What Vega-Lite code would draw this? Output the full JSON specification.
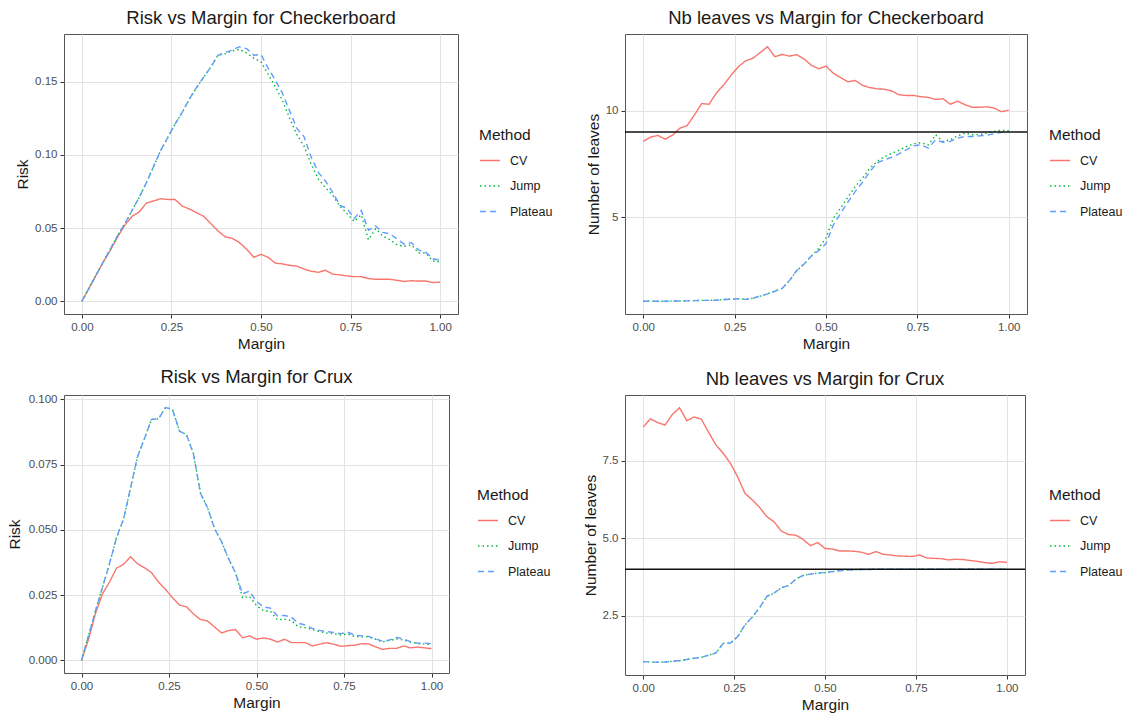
{
"$schema": "https://vega.github.io/schema/vega-lite/v6.json",
"background": "white",
"padding": {"left": 6, "top": 8, "right": 0, "bottom": 0},
"config": {
  "font": "Liberation Sans",
  "view": {"stroke": "#555555", "strokeWidth": 1},
  "axis": {"grid": true, "gridColor": "#e2e2e2", "gridWidth": 1, "domain": false, "tickColor": "#333333", "tickSize": 4, "labelColor": "#4d4d4d", "labelFontSize": 11.5, "labelPadding": 3, "titleFontSize": 15.5, "titleFontWeight": "normal", "titleColor": "#1a1a1a", "titlePadding": 4, "labelOverlap": false, "labelFlush": false},
  "title": {"fontSize": 18.5, "fontWeight": "normal", "color": "#1a1a1a", "offset": 7, "anchor": "middle"},
  "legend": {"titleFontSize": 15.5, "titleFontWeight": "normal", "titleColor": "#1a1a1a", "labelFontSize": 12.5, "labelColor": "#1a1a1a", "symbolStrokeWidth": 1.4, "symbolSize": 400, "symbolType": "stroke", "labelOffset": 9, "titlePadding": 6, "rowPadding": 7.5}
},
"datasets": {
"ckRisk": [
{"margin":0,"method":"CV","value":0},{"margin":0.02,"method":"CV","value":0.009},{"margin":0.04,"method":"CV","value":0.018},{"margin":0.06,"method":"CV","value":0.027},{"margin":0.08,"method":"CV","value":0.035},{"margin":0.1,"method":"CV","value":0.044},{"margin":0.12,"method":"CV","value":0.052},{"margin":0.14,"method":"CV","value":0.058},{"margin":0.16,"method":"CV","value":0.061},{"margin":0.18,"method":"CV","value":0.067},{"margin":0.2,"method":"CV","value":0.0685},{"margin":0.22,"method":"CV","value":0.07},{"margin":0.24,"method":"CV","value":0.0695},{"margin":0.26,"method":"CV","value":0.0695},{"margin":0.28,"method":"CV","value":0.065},{"margin":0.3,"method":"CV","value":0.063},{"margin":0.32,"method":"CV","value":0.0605},{"margin":0.34,"method":"CV","value":0.058},{"margin":0.36,"method":"CV","value":0.053},{"margin":0.38,"method":"CV","value":0.048},{"margin":0.4,"method":"CV","value":0.044},{"margin":0.42,"method":"CV","value":0.043},{"margin":0.44,"method":"CV","value":0.04},{"margin":0.46,"method":"CV","value":0.0355},{"margin":0.48,"method":"CV","value":0.03},{"margin":0.5,"method":"CV","value":0.032},{"margin":0.52,"method":"CV","value":0.03},{"margin":0.54,"method":"CV","value":0.026},{"margin":0.56,"method":"CV","value":0.0255},{"margin":0.58,"method":"CV","value":0.0245},{"margin":0.6,"method":"CV","value":0.024},{"margin":0.62,"method":"CV","value":0.022},{"margin":0.64,"method":"CV","value":0.0205},{"margin":0.66,"method":"CV","value":0.0198},{"margin":0.68,"method":"CV","value":0.0212},{"margin":0.7,"method":"CV","value":0.0185},{"margin":0.72,"method":"CV","value":0.018},{"margin":0.74,"method":"CV","value":0.0173},{"margin":0.76,"method":"CV","value":0.0168},{"margin":0.78,"method":"CV","value":0.0168},{"margin":0.8,"method":"CV","value":0.0155},{"margin":0.82,"method":"CV","value":0.015},{"margin":0.84,"method":"CV","value":0.015},{"margin":0.86,"method":"CV","value":0.015},{"margin":0.88,"method":"CV","value":0.0143},{"margin":0.9,"method":"CV","value":0.0135},{"margin":0.92,"method":"CV","value":0.014},{"margin":0.94,"method":"CV","value":0.0138},{"margin":0.96,"method":"CV","value":0.0138},{"margin":0.98,"method":"CV","value":0.0128},{"margin":1,"method":"CV","value":0.013},
{"margin":0,"method":"Jump","value":0},{"margin":0.02,"method":"Jump","value":0.009},{"margin":0.04,"method":"Jump","value":0.018},{"margin":0.06,"method":"Jump","value":0.027},{"margin":0.08,"method":"Jump","value":0.036},{"margin":0.1,"method":"Jump","value":0.045},{"margin":0.12,"method":"Jump","value":0.053},{"margin":0.14,"method":"Jump","value":0.062},{"margin":0.16,"method":"Jump","value":0.071},{"margin":0.18,"method":"Jump","value":0.081},{"margin":0.2,"method":"Jump","value":0.092},{"margin":0.22,"method":"Jump","value":0.103},{"margin":0.24,"method":"Jump","value":0.112},{"margin":0.26,"method":"Jump","value":0.121},{"margin":0.28,"method":"Jump","value":0.129},{"margin":0.3,"method":"Jump","value":0.138},{"margin":0.32,"method":"Jump","value":0.146},{"margin":0.34,"method":"Jump","value":0.153},{"margin":0.36,"method":"Jump","value":0.16},{"margin":0.38,"method":"Jump","value":0.168},{"margin":0.4,"method":"Jump","value":0.169},{"margin":0.42,"method":"Jump","value":0.171},{"margin":0.44,"method":"Jump","value":0.172},{"margin":0.46,"method":"Jump","value":0.1695},{"margin":0.48,"method":"Jump","value":0.166},{"margin":0.5,"method":"Jump","value":0.1635},{"margin":0.52,"method":"Jump","value":0.155},{"margin":0.54,"method":"Jump","value":0.1465},{"margin":0.56,"method":"Jump","value":0.137},{"margin":0.58,"method":"Jump","value":0.125},{"margin":0.6,"method":"Jump","value":0.114},{"margin":0.62,"method":"Jump","value":0.106},{"margin":0.64,"method":"Jump","value":0.0935},{"margin":0.66,"method":"Jump","value":0.0835},{"margin":0.68,"method":"Jump","value":0.0775},{"margin":0.7,"method":"Jump","value":0.0725},{"margin":0.72,"method":"Jump","value":0.065},{"margin":0.74,"method":"Jump","value":0.06},{"margin":0.76,"method":"Jump","value":0.0545},{"margin":0.78,"method":"Jump","value":0.059},{"margin":0.8,"method":"Jump","value":0.042},{"margin":0.82,"method":"Jump","value":0.0495},{"margin":0.84,"method":"Jump","value":0.0445},{"margin":0.86,"method":"Jump","value":0.042},{"margin":0.88,"method":"Jump","value":0.0385},{"margin":0.9,"method":"Jump","value":0.0375},{"margin":0.92,"method":"Jump","value":0.0385},{"margin":0.94,"method":"Jump","value":0.033},{"margin":0.96,"method":"Jump","value":0.033},{"margin":0.98,"method":"Jump","value":0.0275},{"margin":1,"method":"Jump","value":0.027},
{"margin":0,"method":"Plateau","value":0},{"margin":0.02,"method":"Plateau","value":0.009},{"margin":0.04,"method":"Plateau","value":0.018},{"margin":0.06,"method":"Plateau","value":0.027},{"margin":0.08,"method":"Plateau","value":0.036},{"margin":0.1,"method":"Plateau","value":0.045},{"margin":0.12,"method":"Plateau","value":0.053},{"margin":0.14,"method":"Plateau","value":0.062},{"margin":0.16,"method":"Plateau","value":0.071},{"margin":0.18,"method":"Plateau","value":0.081},{"margin":0.2,"method":"Plateau","value":0.092},{"margin":0.22,"method":"Plateau","value":0.103},{"margin":0.24,"method":"Plateau","value":0.112},{"margin":0.26,"method":"Plateau","value":0.121},{"margin":0.28,"method":"Plateau","value":0.129},{"margin":0.3,"method":"Plateau","value":0.138},{"margin":0.32,"method":"Plateau","value":0.146},{"margin":0.34,"method":"Plateau","value":0.153},{"margin":0.36,"method":"Plateau","value":0.16},{"margin":0.38,"method":"Plateau","value":0.168},{"margin":0.4,"method":"Plateau","value":0.17},{"margin":0.42,"method":"Plateau","value":0.1715},{"margin":0.44,"method":"Plateau","value":0.1738},{"margin":0.46,"method":"Plateau","value":0.1725},{"margin":0.48,"method":"Plateau","value":0.168},{"margin":0.5,"method":"Plateau","value":0.1685},{"margin":0.52,"method":"Plateau","value":0.159},{"margin":0.54,"method":"Plateau","value":0.151},{"margin":0.56,"method":"Plateau","value":0.142},{"margin":0.58,"method":"Plateau","value":0.13},{"margin":0.6,"method":"Plateau","value":0.118},{"margin":0.62,"method":"Plateau","value":0.1125},{"margin":0.64,"method":"Plateau","value":0.0985},{"margin":0.66,"method":"Plateau","value":0.088},{"margin":0.68,"method":"Plateau","value":0.082},{"margin":0.7,"method":"Plateau","value":0.0745},{"margin":0.72,"method":"Plateau","value":0.0655},{"margin":0.74,"method":"Plateau","value":0.0635},{"margin":0.76,"method":"Plateau","value":0.0565},{"margin":0.78,"method":"Plateau","value":0.062},{"margin":0.8,"method":"Plateau","value":0.0485},{"margin":0.82,"method":"Plateau","value":0.0515},{"margin":0.84,"method":"Plateau","value":0.047},{"margin":0.86,"method":"Plateau","value":0.046},{"margin":0.88,"method":"Plateau","value":0.0425},{"margin":0.9,"method":"Plateau","value":0.039},{"margin":0.92,"method":"Plateau","value":0.04},{"margin":0.94,"method":"Plateau","value":0.035},{"margin":0.96,"method":"Plateau","value":0.0335},{"margin":0.98,"method":"Plateau","value":0.029},{"margin":1,"method":"Plateau","value":0.028}
],
"ckLeaves": [
{"margin":0,"method":"CV","value":8.56},{"margin":0.02,"method":"CV","value":8.76},{"margin":0.04,"method":"CV","value":8.84},{"margin":0.06,"method":"CV","value":8.66},{"margin":0.08,"method":"CV","value":8.85},{"margin":0.1,"method":"CV","value":9.18},{"margin":0.12,"method":"CV","value":9.3},{"margin":0.14,"method":"CV","value":9.8},{"margin":0.16,"method":"CV","value":10.33},{"margin":0.18,"method":"CV","value":10.3},{"margin":0.2,"method":"CV","value":10.83},{"margin":0.22,"method":"CV","value":11.2},{"margin":0.24,"method":"CV","value":11.65},{"margin":0.26,"method":"CV","value":12.05},{"margin":0.28,"method":"CV","value":12.33},{"margin":0.3,"method":"CV","value":12.45},{"margin":0.32,"method":"CV","value":12.72},{"margin":0.34,"method":"CV","value":12.99},{"margin":0.36,"method":"CV","value":12.52},{"margin":0.38,"method":"CV","value":12.63},{"margin":0.4,"method":"CV","value":12.55},{"margin":0.42,"method":"CV","value":12.62},{"margin":0.44,"method":"CV","value":12.42},{"margin":0.46,"method":"CV","value":12.12},{"margin":0.48,"method":"CV","value":11.96},{"margin":0.5,"method":"CV","value":12.08},{"margin":0.52,"method":"CV","value":11.75},{"margin":0.54,"method":"CV","value":11.55},{"margin":0.56,"method":"CV","value":11.35},{"margin":0.58,"method":"CV","value":11.41},{"margin":0.6,"method":"CV","value":11.18},{"margin":0.62,"method":"CV","value":11.08},{"margin":0.64,"method":"CV","value":11.02},{"margin":0.66,"method":"CV","value":11.0},{"margin":0.68,"method":"CV","value":10.92},{"margin":0.7,"method":"CV","value":10.74},{"margin":0.72,"method":"CV","value":10.71},{"margin":0.74,"method":"CV","value":10.71},{"margin":0.76,"method":"CV","value":10.65},{"margin":0.78,"method":"CV","value":10.62},{"margin":0.8,"method":"CV","value":10.52},{"margin":0.82,"method":"CV","value":10.56},{"margin":0.84,"method":"CV","value":10.3},{"margin":0.86,"method":"CV","value":10.44},{"margin":0.88,"method":"CV","value":10.28},{"margin":0.9,"method":"CV","value":10.16},{"margin":0.92,"method":"CV","value":10.16},{"margin":0.94,"method":"CV","value":10.18},{"margin":0.96,"method":"CV","value":10.12},{"margin":0.98,"method":"CV","value":9.95},{"margin":1,"method":"CV","value":10.02},
{"margin":0,"method":"Jump","value":1.08},{"margin":0.02,"method":"Jump","value":1.08},{"margin":0.04,"method":"Jump","value":1.08},{"margin":0.06,"method":"Jump","value":1.08},{"margin":0.08,"method":"Jump","value":1.09},{"margin":0.1,"method":"Jump","value":1.09},{"margin":0.12,"method":"Jump","value":1.1},{"margin":0.14,"method":"Jump","value":1.11},{"margin":0.16,"method":"Jump","value":1.12},{"margin":0.18,"method":"Jump","value":1.12},{"margin":0.2,"method":"Jump","value":1.13},{"margin":0.22,"method":"Jump","value":1.16},{"margin":0.24,"method":"Jump","value":1.18},{"margin":0.26,"method":"Jump","value":1.2},{"margin":0.28,"method":"Jump","value":1.17},{"margin":0.3,"method":"Jump","value":1.22},{"margin":0.32,"method":"Jump","value":1.32},{"margin":0.34,"method":"Jump","value":1.43},{"margin":0.36,"method":"Jump","value":1.55},{"margin":0.38,"method":"Jump","value":1.68},{"margin":0.4,"method":"Jump","value":2.05},{"margin":0.42,"method":"Jump","value":2.52},{"margin":0.44,"method":"Jump","value":2.82},{"margin":0.46,"method":"Jump","value":3.2},{"margin":0.48,"method":"Jump","value":3.55},{"margin":0.5,"method":"Jump","value":4.05},{"margin":0.52,"method":"Jump","value":4.95},{"margin":0.54,"method":"Jump","value":5.45},{"margin":0.56,"method":"Jump","value":5.95},{"margin":0.58,"method":"Jump","value":6.45},{"margin":0.6,"method":"Jump","value":6.85},{"margin":0.62,"method":"Jump","value":7.3},{"margin":0.64,"method":"Jump","value":7.62},{"margin":0.66,"method":"Jump","value":7.85},{"margin":0.68,"method":"Jump","value":8.0},{"margin":0.7,"method":"Jump","value":8.15},{"margin":0.72,"method":"Jump","value":8.32},{"margin":0.74,"method":"Jump","value":8.45},{"margin":0.76,"method":"Jump","value":8.5},{"margin":0.78,"method":"Jump","value":8.4},{"margin":0.8,"method":"Jump","value":8.87},{"margin":0.82,"method":"Jump","value":8.56},{"margin":0.84,"method":"Jump","value":8.64},{"margin":0.86,"method":"Jump","value":8.82},{"margin":0.88,"method":"Jump","value":8.95},{"margin":0.9,"method":"Jump","value":8.87},{"margin":0.92,"method":"Jump","value":8.88},{"margin":0.94,"method":"Jump","value":8.95},{"margin":0.96,"method":"Jump","value":9.03},{"margin":0.98,"method":"Jump","value":9.08},{"margin":1,"method":"Jump","value":9.06},
{"margin":0,"method":"Plateau","value":1.08},{"margin":0.02,"method":"Plateau","value":1.08},{"margin":0.04,"method":"Plateau","value":1.08},{"margin":0.06,"method":"Plateau","value":1.08},{"margin":0.08,"method":"Plateau","value":1.09},{"margin":0.1,"method":"Plateau","value":1.09},{"margin":0.12,"method":"Plateau","value":1.1},{"margin":0.14,"method":"Plateau","value":1.11},{"margin":0.16,"method":"Plateau","value":1.12},{"margin":0.18,"method":"Plateau","value":1.12},{"margin":0.2,"method":"Plateau","value":1.13},{"margin":0.22,"method":"Plateau","value":1.16},{"margin":0.24,"method":"Plateau","value":1.18},{"margin":0.26,"method":"Plateau","value":1.2},{"margin":0.28,"method":"Plateau","value":1.17},{"margin":0.3,"method":"Plateau","value":1.22},{"margin":0.32,"method":"Plateau","value":1.32},{"margin":0.34,"method":"Plateau","value":1.43},{"margin":0.36,"method":"Plateau","value":1.55},{"margin":0.38,"method":"Plateau","value":1.68},{"margin":0.4,"method":"Plateau","value":2.05},{"margin":0.42,"method":"Plateau","value":2.52},{"margin":0.44,"method":"Plateau","value":2.82},{"margin":0.46,"method":"Plateau","value":3.2},{"margin":0.48,"method":"Plateau","value":3.45},{"margin":0.5,"method":"Plateau","value":3.78},{"margin":0.52,"method":"Plateau","value":4.65},{"margin":0.54,"method":"Plateau","value":5.2},{"margin":0.56,"method":"Plateau","value":5.72},{"margin":0.58,"method":"Plateau","value":6.22},{"margin":0.6,"method":"Plateau","value":6.65},{"margin":0.62,"method":"Plateau","value":7.15},{"margin":0.64,"method":"Plateau","value":7.55},{"margin":0.66,"method":"Plateau","value":7.7},{"margin":0.68,"method":"Plateau","value":7.82},{"margin":0.7,"method":"Plateau","value":7.98},{"margin":0.72,"method":"Plateau","value":8.17},{"margin":0.74,"method":"Plateau","value":8.35},{"margin":0.76,"method":"Plateau","value":8.4},{"margin":0.78,"method":"Plateau","value":8.25},{"margin":0.8,"method":"Plateau","value":8.64},{"margin":0.82,"method":"Plateau","value":8.52},{"margin":0.84,"method":"Plateau","value":8.56},{"margin":0.86,"method":"Plateau","value":8.71},{"margin":0.88,"method":"Plateau","value":8.79},{"margin":0.9,"method":"Plateau","value":8.79},{"margin":0.92,"method":"Plateau","value":8.82},{"margin":0.94,"method":"Plateau","value":8.85},{"margin":0.96,"method":"Plateau","value":8.92},{"margin":0.98,"method":"Plateau","value":8.98},{"margin":1,"method":"Plateau","value":9.03}
],
"cxRisk": [
{"margin":0,"method":"CV","value":0},{"margin":0.02,"method":"CV","value":0.008},{"margin":0.04,"method":"CV","value":0.018},{"margin":0.06,"method":"CV","value":0.0255},{"margin":0.08,"method":"CV","value":0.03},{"margin":0.1,"method":"CV","value":0.0353},{"margin":0.12,"method":"CV","value":0.0368},{"margin":0.14,"method":"CV","value":0.0397},{"margin":0.16,"method":"CV","value":0.037},{"margin":0.18,"method":"CV","value":0.0355},{"margin":0.2,"method":"CV","value":0.0336},{"margin":0.22,"method":"CV","value":0.03},{"margin":0.24,"method":"CV","value":0.0272},{"margin":0.26,"method":"CV","value":0.024},{"margin":0.28,"method":"CV","value":0.0212},{"margin":0.3,"method":"CV","value":0.0205},{"margin":0.32,"method":"CV","value":0.0178},{"margin":0.34,"method":"CV","value":0.0156},{"margin":0.36,"method":"CV","value":0.0151},{"margin":0.38,"method":"CV","value":0.0128},{"margin":0.4,"method":"CV","value":0.0105},{"margin":0.42,"method":"CV","value":0.0114},{"margin":0.44,"method":"CV","value":0.0118},{"margin":0.46,"method":"CV","value":0.0087},{"margin":0.48,"method":"CV","value":0.0094},{"margin":0.5,"method":"CV","value":0.0081},{"margin":0.52,"method":"CV","value":0.0086},{"margin":0.54,"method":"CV","value":0.0081},{"margin":0.56,"method":"CV","value":0.007},{"margin":0.58,"method":"CV","value":0.0081},{"margin":0.6,"method":"CV","value":0.0068},{"margin":0.62,"method":"CV","value":0.0068},{"margin":0.64,"method":"CV","value":0.0068},{"margin":0.66,"method":"CV","value":0.0055},{"margin":0.68,"method":"CV","value":0.0062},{"margin":0.7,"method":"CV","value":0.0068},{"margin":0.72,"method":"CV","value":0.0062},{"margin":0.74,"method":"CV","value":0.0054},{"margin":0.76,"method":"CV","value":0.0056},{"margin":0.78,"method":"CV","value":0.0058},{"margin":0.8,"method":"CV","value":0.0064},{"margin":0.82,"method":"CV","value":0.0063},{"margin":0.84,"method":"CV","value":0.0052},{"margin":0.86,"method":"CV","value":0.0042},{"margin":0.88,"method":"CV","value":0.0046},{"margin":0.9,"method":"CV","value":0.0046},{"margin":0.92,"method":"CV","value":0.0055},{"margin":0.94,"method":"CV","value":0.0048},{"margin":0.96,"method":"CV","value":0.0051},{"margin":0.98,"method":"CV","value":0.0048},{"margin":1,"method":"CV","value":0.0045},
{"margin":0,"method":"Jump","value":0},{"margin":0.02,"method":"Jump","value":0.0095},{"margin":0.04,"method":"Jump","value":0.019},{"margin":0.06,"method":"Jump","value":0.028},{"margin":0.08,"method":"Jump","value":0.037},{"margin":0.1,"method":"Jump","value":0.047},{"margin":0.12,"method":"Jump","value":0.054},{"margin":0.14,"method":"Jump","value":0.066},{"margin":0.16,"method":"Jump","value":0.078},{"margin":0.18,"method":"Jump","value":0.085},{"margin":0.2,"method":"Jump","value":0.0923},{"margin":0.22,"method":"Jump","value":0.0925},{"margin":0.24,"method":"Jump","value":0.0968},{"margin":0.26,"method":"Jump","value":0.0962},{"margin":0.28,"method":"Jump","value":0.0878},{"margin":0.3,"method":"Jump","value":0.0865},{"margin":0.32,"method":"Jump","value":0.079},{"margin":0.34,"method":"Jump","value":0.064},{"margin":0.36,"method":"Jump","value":0.0585},{"margin":0.38,"method":"Jump","value":0.0505},{"margin":0.4,"method":"Jump","value":0.0455},{"margin":0.42,"method":"Jump","value":0.039},{"margin":0.44,"method":"Jump","value":0.0335},{"margin":0.46,"method":"Jump","value":0.024},{"margin":0.48,"method":"Jump","value":0.0245},{"margin":0.5,"method":"Jump","value":0.021},{"margin":0.52,"method":"Jump","value":0.019},{"margin":0.54,"method":"Jump","value":0.0188},{"margin":0.56,"method":"Jump","value":0.0155},{"margin":0.58,"method":"Jump","value":0.0158},{"margin":0.6,"method":"Jump","value":0.0152},{"margin":0.62,"method":"Jump","value":0.0128},{"margin":0.64,"method":"Jump","value":0.0125},{"margin":0.66,"method":"Jump","value":0.0118},{"margin":0.68,"method":"Jump","value":0.011},{"margin":0.7,"method":"Jump","value":0.0105},{"margin":0.72,"method":"Jump","value":0.0102},{"margin":0.74,"method":"Jump","value":0.0097},{"margin":0.76,"method":"Jump","value":0.0101},{"margin":0.78,"method":"Jump","value":0.0092},{"margin":0.8,"method":"Jump","value":0.009},{"margin":0.82,"method":"Jump","value":0.009},{"margin":0.84,"method":"Jump","value":0.0081},{"margin":0.86,"method":"Jump","value":0.0071},{"margin":0.88,"method":"Jump","value":0.0076},{"margin":0.9,"method":"Jump","value":0.0082},{"margin":0.92,"method":"Jump","value":0.0078},{"margin":0.94,"method":"Jump","value":0.007},{"margin":0.96,"method":"Jump","value":0.0064},{"margin":0.98,"method":"Jump","value":0.0063},{"margin":1,"method":"Jump","value":0.006},
{"margin":0,"method":"Plateau","value":0},{"margin":0.02,"method":"Plateau","value":0.0095},{"margin":0.04,"method":"Plateau","value":0.019},{"margin":0.06,"method":"Plateau","value":0.028},{"margin":0.08,"method":"Plateau","value":0.037},{"margin":0.1,"method":"Plateau","value":0.047},{"margin":0.12,"method":"Plateau","value":0.054},{"margin":0.14,"method":"Plateau","value":0.066},{"margin":0.16,"method":"Plateau","value":0.078},{"margin":0.18,"method":"Plateau","value":0.085},{"margin":0.2,"method":"Plateau","value":0.0923},{"margin":0.22,"method":"Plateau","value":0.0925},{"margin":0.24,"method":"Plateau","value":0.0968},{"margin":0.26,"method":"Plateau","value":0.0962},{"margin":0.28,"method":"Plateau","value":0.0878},{"margin":0.3,"method":"Plateau","value":0.0865},{"margin":0.32,"method":"Plateau","value":0.079},{"margin":0.34,"method":"Plateau","value":0.064},{"margin":0.36,"method":"Plateau","value":0.0585},{"margin":0.38,"method":"Plateau","value":0.0505},{"margin":0.4,"method":"Plateau","value":0.0455},{"margin":0.42,"method":"Plateau","value":0.039},{"margin":0.44,"method":"Plateau","value":0.0335},{"margin":0.46,"method":"Plateau","value":0.0255},{"margin":0.48,"method":"Plateau","value":0.0265},{"margin":0.5,"method":"Plateau","value":0.0225},{"margin":0.52,"method":"Plateau","value":0.0205},{"margin":0.54,"method":"Plateau","value":0.02},{"margin":0.56,"method":"Plateau","value":0.017},{"margin":0.58,"method":"Plateau","value":0.0172},{"margin":0.6,"method":"Plateau","value":0.0165},{"margin":0.62,"method":"Plateau","value":0.0142},{"margin":0.64,"method":"Plateau","value":0.0135},{"margin":0.66,"method":"Plateau","value":0.0122},{"margin":0.68,"method":"Plateau","value":0.0115},{"margin":0.7,"method":"Plateau","value":0.011},{"margin":0.72,"method":"Plateau","value":0.0107},{"margin":0.74,"method":"Plateau","value":0.0102},{"margin":0.76,"method":"Plateau","value":0.0108},{"margin":0.78,"method":"Plateau","value":0.0097},{"margin":0.8,"method":"Plateau","value":0.0094},{"margin":0.82,"method":"Plateau","value":0.0092},{"margin":0.84,"method":"Plateau","value":0.0083},{"margin":0.86,"method":"Plateau","value":0.0073},{"margin":0.88,"method":"Plateau","value":0.0078},{"margin":0.9,"method":"Plateau","value":0.0088},{"margin":0.92,"method":"Plateau","value":0.0082},{"margin":0.94,"method":"Plateau","value":0.0072},{"margin":0.96,"method":"Plateau","value":0.0066},{"margin":0.98,"method":"Plateau","value":0.0066},{"margin":1,"method":"Plateau","value":0.0064}
],
"cxLeaves": [
{"margin":0,"method":"CV","value":8.6},{"margin":0.02,"method":"CV","value":8.86},{"margin":0.04,"method":"CV","value":8.74},{"margin":0.06,"method":"CV","value":8.66},{"margin":0.08,"method":"CV","value":9.0},{"margin":0.1,"method":"CV","value":9.22},{"margin":0.12,"method":"CV","value":8.8},{"margin":0.14,"method":"CV","value":8.92},{"margin":0.16,"method":"CV","value":8.85},{"margin":0.18,"method":"CV","value":8.42},{"margin":0.2,"method":"CV","value":8.02},{"margin":0.22,"method":"CV","value":7.75},{"margin":0.24,"method":"CV","value":7.42},{"margin":0.26,"method":"CV","value":6.98},{"margin":0.28,"method":"CV","value":6.45},{"margin":0.3,"method":"CV","value":6.24},{"margin":0.32,"method":"CV","value":6.0},{"margin":0.34,"method":"CV","value":5.7},{"margin":0.36,"method":"CV","value":5.53},{"margin":0.38,"method":"CV","value":5.23},{"margin":0.4,"method":"CV","value":5.12},{"margin":0.42,"method":"CV","value":5.1},{"margin":0.44,"method":"CV","value":4.96},{"margin":0.46,"method":"CV","value":4.76},{"margin":0.48,"method":"CV","value":4.86},{"margin":0.5,"method":"CV","value":4.67},{"margin":0.52,"method":"CV","value":4.65},{"margin":0.54,"method":"CV","value":4.59},{"margin":0.56,"method":"CV","value":4.59},{"margin":0.58,"method":"CV","value":4.58},{"margin":0.6,"method":"CV","value":4.55},{"margin":0.62,"method":"CV","value":4.48},{"margin":0.64,"method":"CV","value":4.57},{"margin":0.66,"method":"CV","value":4.48},{"margin":0.68,"method":"CV","value":4.46},{"margin":0.7,"method":"CV","value":4.43},{"margin":0.72,"method":"CV","value":4.42},{"margin":0.74,"method":"CV","value":4.41},{"margin":0.76,"method":"CV","value":4.46},{"margin":0.78,"method":"CV","value":4.36},{"margin":0.8,"method":"CV","value":4.35},{"margin":0.82,"method":"CV","value":4.34},{"margin":0.84,"method":"CV","value":4.3},{"margin":0.86,"method":"CV","value":4.32},{"margin":0.88,"method":"CV","value":4.31},{"margin":0.9,"method":"CV","value":4.28},{"margin":0.92,"method":"CV","value":4.25},{"margin":0.94,"method":"CV","value":4.21},{"margin":0.96,"method":"CV","value":4.19},{"margin":0.98,"method":"CV","value":4.24},{"margin":1,"method":"CV","value":4.22},
{"margin":0,"method":"Jump","value":1.01},{"margin":0.02,"method":"Jump","value":1.0},{"margin":0.04,"method":"Jump","value":0.99},{"margin":0.06,"method":"Jump","value":1.0},{"margin":0.08,"method":"Jump","value":1.02},{"margin":0.1,"method":"Jump","value":1.04},{"margin":0.12,"method":"Jump","value":1.08},{"margin":0.14,"method":"Jump","value":1.12},{"margin":0.16,"method":"Jump","value":1.15},{"margin":0.18,"method":"Jump","value":1.22},{"margin":0.2,"method":"Jump","value":1.29},{"margin":0.22,"method":"Jump","value":1.6},{"margin":0.24,"method":"Jump","value":1.61},{"margin":0.26,"method":"Jump","value":1.82},{"margin":0.28,"method":"Jump","value":2.2},{"margin":0.3,"method":"Jump","value":2.45},{"margin":0.32,"method":"Jump","value":2.75},{"margin":0.34,"method":"Jump","value":3.12},{"margin":0.36,"method":"Jump","value":3.23},{"margin":0.38,"method":"Jump","value":3.4},{"margin":0.4,"method":"Jump","value":3.47},{"margin":0.42,"method":"Jump","value":3.68},{"margin":0.44,"method":"Jump","value":3.8},{"margin":0.46,"method":"Jump","value":3.84},{"margin":0.48,"method":"Jump","value":3.87},{"margin":0.5,"method":"Jump","value":3.89},{"margin":0.52,"method":"Jump","value":3.92},{"margin":0.54,"method":"Jump","value":3.95},{"margin":0.56,"method":"Jump","value":3.97},{"margin":0.58,"method":"Jump","value":3.98},{"margin":0.6,"method":"Jump","value":3.99},{"margin":0.62,"method":"Jump","value":3.99},{"margin":0.64,"method":"Jump","value":4.0},{"margin":0.66,"method":"Jump","value":4.0},{"margin":0.68,"method":"Jump","value":4.0},{"margin":0.7,"method":"Jump","value":4.0},{"margin":0.72,"method":"Jump","value":4.0},{"margin":0.74,"method":"Jump","value":4.0},{"margin":0.76,"method":"Jump","value":4.0},{"margin":0.78,"method":"Jump","value":4.0},{"margin":0.8,"method":"Jump","value":4.0},{"margin":0.82,"method":"Jump","value":4.0},{"margin":0.84,"method":"Jump","value":4.0},{"margin":0.86,"method":"Jump","value":4.0},{"margin":0.88,"method":"Jump","value":4.0},{"margin":0.9,"method":"Jump","value":4.0},{"margin":0.92,"method":"Jump","value":4.0},{"margin":0.94,"method":"Jump","value":4.0},{"margin":0.96,"method":"Jump","value":4.0},{"margin":0.98,"method":"Jump","value":4.0},{"margin":1,"method":"Jump","value":4.0},
{"margin":0,"method":"Plateau","value":1.01},{"margin":0.02,"method":"Plateau","value":1.0},{"margin":0.04,"method":"Plateau","value":0.99},{"margin":0.06,"method":"Plateau","value":1.0},{"margin":0.08,"method":"Plateau","value":1.02},{"margin":0.1,"method":"Plateau","value":1.04},{"margin":0.12,"method":"Plateau","value":1.08},{"margin":0.14,"method":"Plateau","value":1.12},{"margin":0.16,"method":"Plateau","value":1.15},{"margin":0.18,"method":"Plateau","value":1.22},{"margin":0.2,"method":"Plateau","value":1.29},{"margin":0.22,"method":"Plateau","value":1.6},{"margin":0.24,"method":"Plateau","value":1.61},{"margin":0.26,"method":"Plateau","value":1.82},{"margin":0.28,"method":"Plateau","value":2.2},{"margin":0.3,"method":"Plateau","value":2.45},{"margin":0.32,"method":"Plateau","value":2.75},{"margin":0.34,"method":"Plateau","value":3.12},{"margin":0.36,"method":"Plateau","value":3.23},{"margin":0.38,"method":"Plateau","value":3.4},{"margin":0.4,"method":"Plateau","value":3.47},{"margin":0.42,"method":"Plateau","value":3.68},{"margin":0.44,"method":"Plateau","value":3.8},{"margin":0.46,"method":"Plateau","value":3.84},{"margin":0.48,"method":"Plateau","value":3.87},{"margin":0.5,"method":"Plateau","value":3.89},{"margin":0.52,"method":"Plateau","value":3.92},{"margin":0.54,"method":"Plateau","value":3.95},{"margin":0.56,"method":"Plateau","value":3.97},{"margin":0.58,"method":"Plateau","value":3.98},{"margin":0.6,"method":"Plateau","value":3.99},{"margin":0.62,"method":"Plateau","value":3.99},{"margin":0.64,"method":"Plateau","value":4.0},{"margin":0.66,"method":"Plateau","value":4.0},{"margin":0.68,"method":"Plateau","value":4.0},{"margin":0.7,"method":"Plateau","value":4.0},{"margin":0.72,"method":"Plateau","value":4.0},{"margin":0.74,"method":"Plateau","value":4.0},{"margin":0.76,"method":"Plateau","value":4.0},{"margin":0.78,"method":"Plateau","value":4.0},{"margin":0.8,"method":"Plateau","value":4.0},{"margin":0.82,"method":"Plateau","value":4.0},{"margin":0.84,"method":"Plateau","value":4.0},{"margin":0.86,"method":"Plateau","value":4.0},{"margin":0.88,"method":"Plateau","value":4.0},{"margin":0.9,"method":"Plateau","value":4.0},{"margin":0.92,"method":"Plateau","value":4.0},{"margin":0.94,"method":"Plateau","value":4.0},{"margin":0.96,"method":"Plateau","value":4.0},{"margin":0.98,"method":"Plateau","value":4.0},{"margin":1,"method":"Plateau","value":4.0}
],
"ckTrue": [{"value": 9}],
"cxTrue": [{"value": 4}]
},
"resolve": {"legend": {"color": "independent", "strokeDash": "independent"}},
"spacing": 14,
"vconcat": [
{
  "spacing": 31,
  "resolve": {"legend": {"color": "independent", "strokeDash": "independent"}},
  "hconcat": [
  {
    "title": "Risk vs Margin for Checkerboard",
    "width": 394, "height": 280,
    "layer": [
      {"data": {"name": "ckRisk"}, "mark": {"type": "line", "strokeWidth": 1.4},
       "encoding": {
         "x": {"field": "margin", "type": "quantitative", "scale": {"domain": [-0.05, 1.05], "nice": false, "zero": false}, "axis": {"values": [0, 0.25, 0.5, 0.75, 1], "format": ".2f", "title": "Margin"}},
         "y": {"field": "value", "type": "quantitative", "scale": {"domain": [-0.0087, 0.1825], "nice": false, "zero": false}, "axis": {"values": [0, 0.05, 0.1, 0.15], "format": ".2f", "title": "Risk"}},
         "color": {"field": "method", "type": "nominal", "scale": {"domain": ["CV", "Jump", "Plateau"], "range": ["#F8766D", "#00BA38", "#619CFF"]}, "legend": {"title": "Method", "orient": "none", "legendX": 415, "legendY": 94}},
         "strokeDash": {"field": "method", "type": "nominal", "scale": {"domain": ["CV", "Jump", "Plateau"], "range": [[1, 0], [1.5, 3], [6, 4]]}, "legend": {"title": "Method", "orient": "none", "legendX": 415, "legendY": 94}}
       }}
    ]
  },
  {
    "title": "Nb leaves vs Margin for Checkerboard",
    "width": 402, "height": 280,
    "layer": [
      {"data": {"name": "ckLeaves"}, "mark": {"type": "line", "strokeWidth": 1.4},
       "encoding": {
         "x": {"field": "margin", "type": "quantitative", "scale": {"domain": [-0.05, 1.05], "nice": false, "zero": false}, "axis": {"values": [0, 0.25, 0.5, 0.75, 1], "format": ".2f", "title": "Margin"}},
         "y": {"field": "value", "type": "quantitative", "scale": {"domain": [0.4845, 13.5855], "nice": false, "zero": false}, "axis": {"values": [5, 10], "format": "d", "title": "Number of leaves"}},
         "color": {"field": "method", "type": "nominal", "scale": {"domain": ["CV", "Jump", "Plateau"], "range": ["#F8766D", "#00BA38", "#619CFF"]}, "legend": {"title": "Method", "orient": "none", "legendX": 424, "legendY": 94}},
         "strokeDash": {"field": "method", "type": "nominal", "scale": {"domain": ["CV", "Jump", "Plateau"], "range": [[1, 0], [1.5, 3], [6, 4]]}, "legend": {"title": "Method", "orient": "none", "legendX": 424, "legendY": 94}}
       }},
      {"data": {"name": "ckTrue"}, "mark": {"type": "rule", "color": "#111111", "strokeWidth": 1.4},
       "encoding": {"y": {"field": "value", "type": "quantitative"}}}
    ]
  }
  ]
},
{
  "spacing": 30,
  "resolve": {"legend": {"color": "independent", "strokeDash": "independent"}},
  "hconcat": [
  {
    "title": "Risk vs Margin for Crux",
    "width": 385, "height": 278,
    "layer": [
      {"data": {"name": "cxRisk"}, "mark": {"type": "line", "strokeWidth": 1.4},
       "encoding": {
         "x": {"field": "margin", "type": "quantitative", "scale": {"domain": [-0.05, 1.05], "nice": false, "zero": false}, "axis": {"values": [0, 0.25, 0.5, 0.75, 1], "format": ".2f", "title": "Margin"}},
         "y": {"field": "value", "type": "quantitative", "scale": {"domain": [-0.00484, 0.10164], "nice": false, "zero": false}, "axis": {"values": [0, 0.025, 0.05, 0.075, 0.1], "format": ".3f", "title": "Risk", "titlePadding": 6}},
         "color": {"field": "method", "type": "nominal", "scale": {"domain": ["CV", "Jump", "Plateau"], "range": ["#F8766D", "#00BA38", "#619CFF"]}, "legend": {"title": "Method", "orient": "none", "legendX": 413, "legendY": 93}},
         "strokeDash": {"field": "method", "type": "nominal", "scale": {"domain": ["CV", "Jump", "Plateau"], "range": [[1, 0], [1.5, 3], [6, 4]]}, "legend": {"title": "Method", "orient": "none", "legendX": 413, "legendY": 93}}
       }}
    ]
  },
  {
    "title": "Nb leaves vs Margin for Crux",
    "width": 400, "height": 280,
    "layer": [
      {"data": {"name": "cxLeaves"}, "mark": {"type": "line", "strokeWidth": 1.4},
       "encoding": {
         "x": {"field": "margin", "type": "quantitative", "scale": {"domain": [-0.05, 1.05], "nice": false, "zero": false}, "axis": {"values": [0, 0.25, 0.5, 0.75, 1], "format": ".2f", "title": "Margin"}},
         "y": {"field": "value", "type": "quantitative", "scale": {"domain": [0.5785, 9.6315], "nice": false, "zero": false}, "axis": {"values": [2.5, 5, 7.5], "format": ".1f", "title": "Number of leaves"}},
         "color": {"field": "method", "type": "nominal", "scale": {"domain": ["CV", "Jump", "Plateau"], "range": ["#F8766D", "#00BA38", "#619CFF"]}, "legend": {"title": "Method", "orient": "none", "legendX": 424, "legendY": 93}},
         "strokeDash": {"field": "method", "type": "nominal", "scale": {"domain": ["CV", "Jump", "Plateau"], "range": [[1, 0], [1.5, 3], [6, 4]]}, "legend": {"title": "Method", "orient": "none", "legendX": 424, "legendY": 93}}
       }},
      {"data": {"name": "cxTrue"}, "mark": {"type": "rule", "color": "#111111", "strokeWidth": 1.4},
       "encoding": {"y": {"field": "value", "type": "quantitative"}}}
    ]
  }
  ]
}
]
}
